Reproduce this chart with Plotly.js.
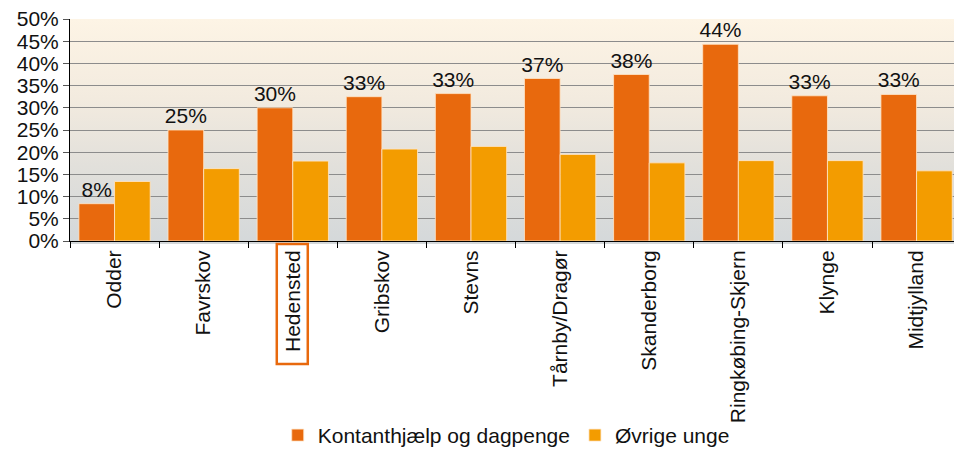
<!DOCTYPE html>
<html>
<head>
<meta charset="utf-8">
<script src="https://cdn.plot.ly/plotly-3.0.1.min.js"></script>
<style>
  html, body { margin: 0; padding: 0; background: #ffffff; }
  #wrap { position: relative; width: 954px; height: 456px; }
  #bg { position: absolute; left: 70px; top: 19px; width: 884px; height: 225px;
        background: linear-gradient(to bottom, #fdf4e5 0%, #f3ebdf 35%, #e2e0db 65%, #d4d8da 100%); z-index: 0; }
  #chart { position: absolute; left: 0; top: 0; width: 954px; height: 456px; z-index: 1; }
</style>
</head>
<body>
<div id="wrap">
  <div id="bg"></div>
  <div id="chart"></div>
</div>
<script>
const categories = ["Odder", "Favrskov", "Hedensted", "Gribskov", "Stevns", "Tårnby/Dragør", "Skanderborg", "Ringkøbing-Skjern", "Klynge", "Midtjylland"];
const kontanthjaelp = [8.4, 25.0, 30.0, 32.5, 33.2, 36.6, 37.5, 44.3, 32.7, 33.0];
const kontanthjaelpLabels = ["8%", "25%", "30%", "33%", "33%", "37%", "38%", "44%", "33%", "33%"];
const oevrigeUnge = [13.4, 16.3, 18.0, 20.7, 21.3, 19.5, 17.6, 18.1, 18.1, 15.8];
const seriesNames = ["Kontanthjælp og dagpenge", "Øvrige unge"];
const highlighted = "Hedensted";

const FONT = "Liberation Sans, Arial, sans-serif";

const traces = [
  {
    type: "bar",
    name: seriesNames[0],
    x: categories,
    y: kontanthjaelp,
    text: kontanthjaelpLabels,
    textposition: "outside",
    constraintext: "none",
    textfont: { family: FONT, size: 21, color: "#111111" },
    cliponaxis: false,
    marker: { color: "#e8690d", line: { color: "rgba(255,230,200,0.8)", width: 1 } },
    hoverinfo: "x+y"
  },
  {
    type: "bar",
    name: seriesNames[1],
    x: categories,
    y: oevrigeUnge,
    marker: { color: "#f39c00", line: { color: "rgba(255,230,200,0.8)", width: 1 } },
    hoverinfo: "x+y"
  }
];

const layout = {
  width: 954,
  height: 456,
  margin: { l: 70, r: 0, t: 19, b: 212, pad: 0 },
  paper_bgcolor: "rgba(0,0,0,0)",
  plot_bgcolor: "rgba(0,0,0,0)",
  font: { family: FONT, size: 21, color: "#111111" },
  barmode: "group",
  bargap: 0.2,
  bargroupgap: 0,
  showlegend: true,
  legend: {
    orientation: "h",
    x: 0.235, xanchor: "left",
    y: -0.876, yanchor: "middle",
    font: { family: FONT, size: 21, color: "#111111" },
    bgcolor: "rgba(0,0,0,0)",
    traceorder: "normal"
  },
  xaxis: {
    type: "category",
    range: [-0.5, 9.42],
    tickangle: -90,
    tickson: "boundaries",
    ticks: "outside",
    ticklen: 6,
    tickcolor: "#000000",
    showline: true,
    linecolor: "#000000",
    linewidth: 1,
    showgrid: false,
    tickfont: { family: FONT, size: 21, color: "#111111" },
    fixedrange: true
  },
  yaxis: {
    range: [0, 50],
    dtick: 5,
    tick0: 0,
    ticksuffix: "%",
    ticks: "outside",
    ticklen: 6,
    tickcolor: "#555555",
    showline: true,
    linecolor: "#000000",
    linewidth: 1,
    showgrid: true,
    gridcolor: "#8c8c8c",
    gridwidth: 1,
    zeroline: false,
    tickfont: { family: FONT, size: 21, color: "#111111" },
    fixedrange: true
  },
  shapes: [
    {
      type: "rect",
      xref: "x", yref: "paper",
      xsizemode: "pixel", xanchor: highlighted,
      x0: -16, x1: 15,
      ysizemode: "pixel", yanchor: 0,
      y0: -3, y1: -123,
      line: { color: "#e8690d", width: 2.5 },
      fillcolor: "rgba(0,0,0,0)",
      layer: "above"
    }
  ]
};

Plotly.newPlot("chart", traces, layout, { displayModeBar: false, staticPlot: true });
</script>
</body>
</html>
